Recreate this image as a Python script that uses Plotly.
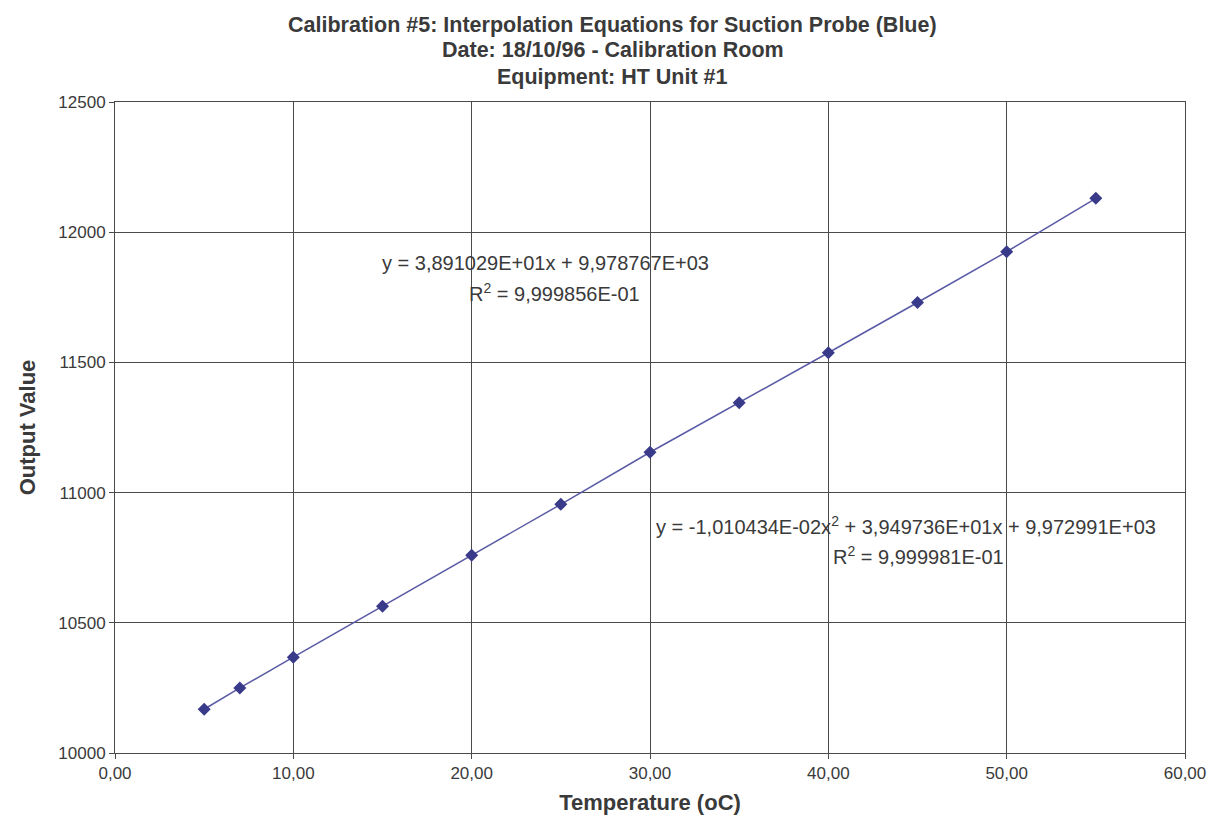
import plotly.graph_objects as go

temperature = [5, 7, 10, 15, 20, 25, 30, 35, 40, 45, 50, 55]
output_value = [10168, 10250, 10368, 10564, 10759, 10955, 11155, 11345, 11537, 11730, 11925, 12130]

x_tick_vals = [0, 10, 20, 30, 40, 50, 60]
x_tick_text = ["0,00", "10,00", "20,00", "30,00", "40,00", "50,00", "60,00"]
y_tick_vals = [10000, 10500, 11000, 11500, 12000, 12500]
y_tick_text = ["10000", "10500", "11000", "11500", "12000", "12500"]

title_lines = [
    "Calibration #5: Interpolation Equations for Suction Probe (Blue)",
    "Date: 18/10/96 - Calibration Room",
    "Equipment: HT Unit #1",
]
title_y = [1.118, 1.080, 1.038]

eq_linear = "y = 3,891029E+01x + 9,978767E+03"
r2_linear = "R<sup>2</sup> = 9,999856E-01"
eq_quad = "y = -1,010434E-02x<sup>2</sup> + 3,949736E+01x + 9,972991E+03"
r2_quad = "R<sup>2</sup> = 9,999981E-01"

line_color = "#5a5aa6"
marker_color = "#3a3a8a"
grid_color = "#4a4a4a"
text_color = "#3a3a3a"

fig = go.Figure()
fig.add_trace(go.Scatter(
    x=temperature, y=output_value, mode="lines+markers",
    line=dict(color=line_color, width=1.5),
    marker=dict(symbol="diamond", size=10, color=marker_color),
    showlegend=False, hoverinfo="x+y",
))

font_reg = "Liberation Sans, Arial, sans-serif"

fig.update_layout(
    width=1210, height=826,
    margin=dict(l=115, r=25, t=102, b=73, autoexpand=False),
    paper_bgcolor="white", plot_bgcolor="white",
    xaxis=dict(
        range=[0, 60], tickvals=x_tick_vals, ticktext=x_tick_text,
        showgrid=True, gridcolor=grid_color, gridwidth=1,
        showline=True, linecolor=grid_color, linewidth=1, mirror=True,
        ticks="outside", ticklen=5, tickcolor=grid_color,
        tickfont=dict(family=font_reg, size=17, color=text_color),
        title=dict(text="<b>Temperature (oC)</b>", standoff=12,
                   font=dict(family=font_reg, size=22, color=text_color)),
        zeroline=False, automargin=False,
    ),
    yaxis=dict(
        range=[10000, 12500], tickvals=y_tick_vals, ticktext=y_tick_text,
        showgrid=True, gridcolor=grid_color, gridwidth=1,
        showline=True, linecolor=grid_color, linewidth=1, mirror=True,
        ticks="outside", ticklen=5, tickcolor=grid_color,
        tickfont=dict(family=font_reg, size=17, color=text_color),
        title=dict(text="<b>Output Value</b>", standoff=16,
                   font=dict(family=font_reg, size=22, color=text_color)),
        zeroline=False, automargin=False,
    ),
)

for line, yy in zip(title_lines, title_y):
    fig.add_annotation(x=0.465, y=yy, xref="paper", yref="paper", text="<b>" + line + "</b>",
                       showarrow=False, xanchor="center", yanchor="middle",
                       font=dict(family=font_reg, size=21.5, color=text_color))

ann_font = dict(family=font_reg, size=20, color=text_color)
fig.add_annotation(x=0.402, y=0.753, xref="paper", yref="paper", text=eq_linear,
                   showarrow=False, font=ann_font, xanchor="center", yanchor="middle")
fig.add_annotation(x=0.411, y=0.707, xref="paper", yref="paper", text=r2_linear,
                   showarrow=False, font=ann_font, xanchor="center", yanchor="middle")
fig.add_annotation(x=0.739, y=0.349, xref="paper", yref="paper", text=eq_quad,
                   showarrow=False, font=ann_font, xanchor="center", yanchor="middle")
fig.add_annotation(x=0.751, y=0.304, xref="paper", yref="paper", text=r2_quad,
                   showarrow=False, font=ann_font, xanchor="center", yanchor="middle")

fig.write_html("out.html")
